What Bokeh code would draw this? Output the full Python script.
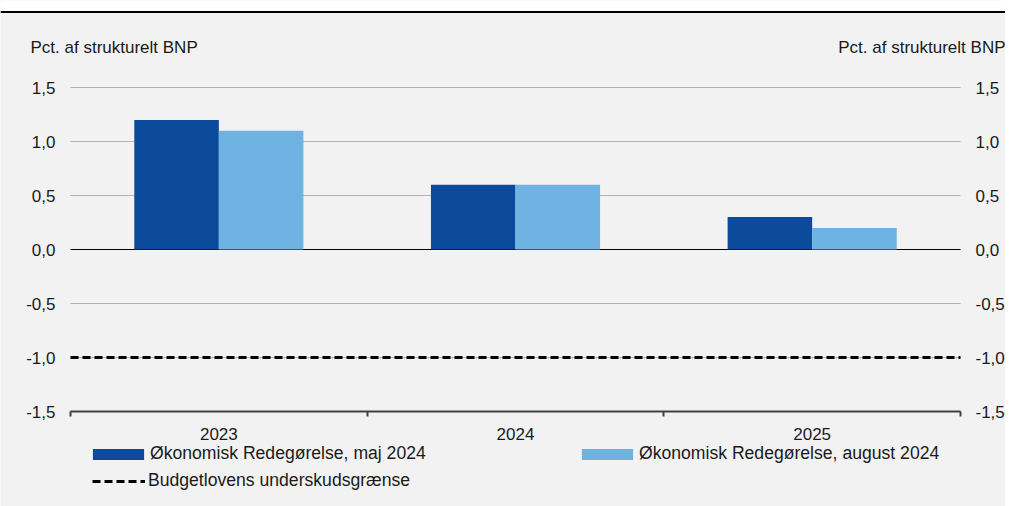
from bokeh.plotting import figure
from bokeh.models import (Range1d, FixedTicker, CustomJSTickFormatter, LinearAxis, Span,
                          Label, Legend, LegendItem, ColumnDataSource, BoxAnnotation)
from bokeh.transform import dodge
from bokeh.embed import file_html
from bokeh.resources import INLINE

# ---------------- data ----------------
years = ["2023", "2024", "2025"]
maj_2024 = [1.2, 0.6, 0.3]
aug_2024 = [1.1, 0.6, 0.2]
deficit_limit = -1.0
y_ticks = [-1.5, -1.0, -0.5, 0.0, 0.5, 1.0, 1.5]
series_names = ["Økonomisk Redegørelse, maj 2024",
                "Økonomisk Redegørelse, august 2024",
                "Budgetlovens underskudsgrænse"]
unit_label = "Pct. af strukturelt BNP"

# ---------------- style / layout (pixels) ----------------
FONT = "Liberation Sans"
FS = "17px"
FS_LEG = "17.6px"
TXT = "#1a1a1a"
BG = "#f2f2f2"
DARK = "#0c4a9c"
LIGHT = "#6eb3e1"

W, H = 1005, 506
PX_L, PX_R = 70, 960          # plot area left/right (px from figure left)
PY_T, PY_B = 87, 411          # plot area top/bottom (px from figure top)

n = len(years)
y0, y1 = y_ticks[0], y_ticks[-1]
ux = (PX_R - PX_L) / n                 # px per category
uy = (PY_B - PY_T) / (y1 - y0)         # px per unit
x_range = Range1d(-PX_L / ux, n + (W - PX_R) / ux)
y_range = Range1d(y0 - (H - PY_B) / uy, y1 + PY_T / uy)

xpos = [i + 0.5 for i in range(n)]
src = ColumnDataSource(dict(x=xpos, maj=maj_2024, aug=aug_2024))

p = figure(width=W, height=H, output_backend="svg", toolbar_location=None,
           x_range=x_range, y_range=y_range, min_border=0,
           background_fill_color=BG, border_fill_color=BG, outline_line_color=None)
p.xgrid.visible = False
p.ygrid.visible = False

# white strip + black rule at the very top
top_y = y1 + (PY_T - 11.5) / uy
p.add_layout(BoxAnnotation(bottom=top_y, fill_color="#ffffff", fill_alpha=1, line_color=None))
p.add_layout(Span(location=top_y, dimension="width", line_color="#000000", line_width=2))

# grid lines (only across the plot area)
p.segment(x0=0, x1=n, y0=y_ticks, y1=y_ticks, line_color="#b3b3b3", line_width=1)
p.segment(x0=[0], x1=[n], y0=[0], y1=[0], line_color="#000000", line_width=1)

bw = 0.285
r1 = p.vbar(x=dodge("x", -bw / 2), top="maj", bottom=0, width=bw, source=src,
            fill_color=DARK, line_color=None)
r2 = p.vbar(x=dodge("x", bw / 2), top="aug", bottom=0, width=bw, source=src,
            fill_color=LIGHT, line_color=None)

rl = p.line(x=[0, n], y=[deficit_limit, deficit_limit], line_color="#000000",
            line_width=3, line_dash="8 4")

yticker = FixedTicker(ticks=y_ticks)
fmt = CustomJSTickFormatter(code="return tick.toFixed(1).replace('.', ',');")

# x axis (fixed at the bottom of the value range)
xa = p.xaxis[0]
xa.fixed_location = y0
xa.bounds = (0, n)
xa.ticker = FixedTicker(ticks=xpos, minor_ticks=list(range(n + 1)))
xa.major_label_overrides = {x: y for x, y in zip(xpos, years)}
xa.major_tick_line_color = None
xa.major_tick_out = 0
xa.major_tick_in = 0
xa.minor_tick_out = 5
xa.minor_tick_in = 0
xa.minor_tick_line_color = "#404040"
xa.minor_tick_line_width = 2
xa.axis_line_color = "#404040"
xa.axis_line_width = 2
xa.major_label_standoff = 11
xa.major_label_text_font = FONT
xa.major_label_text_font_size = FS
xa.major_label_text_color = TXT


def style_y(ax, loc):
    ax.fixed_location = loc
    ax.bounds = (y0, y1)
    ax.ticker = yticker
    ax.formatter = fmt
    ax.axis_line_color = None
    ax.major_tick_line_color = None
    ax.minor_tick_line_color = None
    ax.major_tick_out = 0
    ax.major_tick_in = 0
    ax.major_label_standoff = 15
    ax.major_label_text_font = FONT
    ax.major_label_text_font_size = FS
    ax.major_label_text_color = TXT


style_y(p.yaxis[0], 0)
ra = LinearAxis()
style_y(ra, n)
p.add_layout(ra, "right")

# unit labels above both value axes
ly = y1 + 40 / uy
p.add_layout(Label(x=-40 / ux, y=ly, text=unit_label, text_align="left",
                   text_baseline="middle", text_font=FONT, text_font_size=FS, text_color=TXT))
p.add_layout(Label(x=n + 45 / ux, y=ly, text=unit_label, text_align="right",
                   text_baseline="middle", text_font=FONT, text_font_size=FS, text_color=TXT))


def mk_legend(item, loc, gw, gh, standoff):
    return Legend(items=[item], location=loc, orientation="vertical",
                  background_fill_alpha=0, border_line_color=None, padding=0, margin=0,
                  glyph_width=gw, glyph_height=gh, label_height=20, label_standoff=standoff,
                  spacing=0, label_text_font=FONT, label_text_font_size=FS_LEG,
                  label_text_color=TXT)


p.add_layout(mk_legend(LegendItem(label=series_names[0], renderers=[r1]), (86, 42), 64, 14, 0))
p.add_layout(mk_legend(LegendItem(label=series_names[1], renderers=[r2]), (575, 42), 64, 14, 0))
p.add_layout(mk_legend(LegendItem(label=series_names[2], renderers=[rl]), (92, 15), 53, 14, 3))

open("out.html", "w").write(file_html(p, INLINE))
